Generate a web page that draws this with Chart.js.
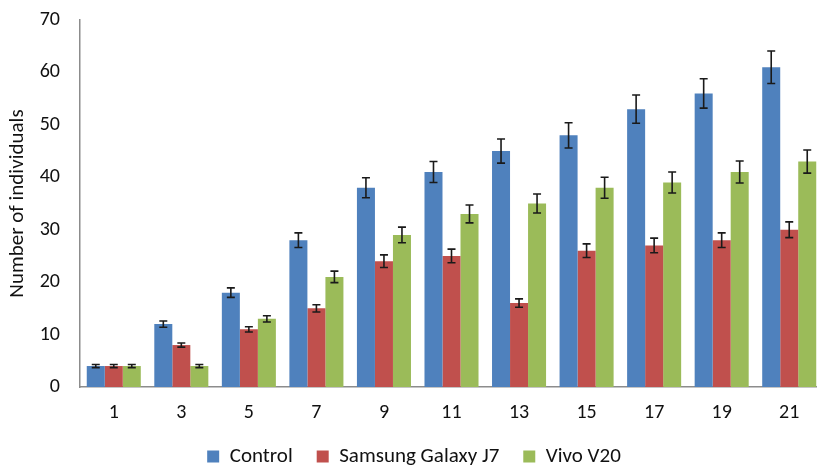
<!DOCTYPE html>
<html>
<head>
<meta charset="utf-8">
<script src="https://cdn.jsdelivr.net/npm/chart.js@4.4.1/dist/chart.umd.min.js"></script>
<style>
  html, body { margin: 0; padding: 0; background: #fff; overflow: hidden; }
  #wrap { width: 823px; height: 465px; }
</style>
</head>
<body>
<div id="wrap"><canvas id="barChart"></canvas></div>
<script>
const days = ["1", "3", "5", "7", "9", "11", "13", "15", "17", "19", "21"];
const controlValues = [4, 12, 18, 28, 38, 41, 45, 48, 53, 56, 61];
const samsungValues = [4, 8, 11, 15, 24, 25, 16, 26, 27, 28, 30];
const vivoValues = [4, 4, 13, 21, 29, 33, 35, 38, 39, 41, 43];
const controlErrors = [0.3, 0.6, 0.9, 1.4, 1.9, 2.0, 2.3, 2.4, 2.7, 2.8, 3.1];
const samsungErrors = [0.3, 0.4, 0.5, 0.7, 1.2, 1.3, 0.8, 1.3, 1.4, 1.4, 1.5];
const vivoErrors = [0.3, 0.3, 0.6, 1.1, 1.5, 1.7, 1.8, 2.0, 2.0, 2.1, 2.2];
const yTicks = [0, 10, 20, 30, 40, 50, 60, 70];

const fontFamily = "Carlito, Lato, 'Open Sans', sans-serif";

const errorBarPlugin = {
  id: "errorBars",
  afterDatasetsDraw(chart) {
    const { ctx, scales } = chart;
    ctx.save();
    ctx.strokeStyle = "#1a1a1a";
    ctx.lineWidth = 1.6;
    chart.data.datasets.forEach((ds, i) => {
      const meta = chart.getDatasetMeta(i);
      meta.data.forEach((bar, j) => {
        const v = ds.data[j];
        const e = ds.errors[j];
        const top = scales.y.getPixelForValue(v + e);
        const bottom = scales.y.getPixelForValue(v - e);
        const cap = 4;
        ctx.beginPath();
        ctx.moveTo(bar.x, top);
        ctx.lineTo(bar.x, bottom);
        ctx.moveTo(bar.x - cap, top);
        ctx.lineTo(bar.x + cap, top);
        ctx.moveTo(bar.x - cap, bottom);
        ctx.lineTo(bar.x + cap, bottom);
        ctx.stroke();
      });
    });
    ctx.restore();
  },
};

const makeDataset = (label, data, errors, color) => ({
  label: label,
  data: data,
  errors: errors,
  backgroundColor: color,
  borderWidth: 0,
  categoryPercentage: 0.8,
  barPercentage: 1.0,
});

new Chart(document.getElementById("barChart"), {
  type: "bar",
  data: {
    labels: days,
    datasets: [
      makeDataset("Control", controlValues, controlErrors, "#4F81BD"),
      makeDataset("Samsung Galaxy J7", samsungValues, samsungErrors, "#C0504D"),
      makeDataset("Vivo V20", vivoValues, vivoErrors, "#9BBB59"),
    ],
  },
  options: {
    responsive: true,
    maintainAspectRatio: false,
    animation: false,
    layout: { padding: { top: 20, right: 0, left: 5, bottom: -12 } },
    plugins: {
      tooltip: { enabled: false },
      legend: {
        position: "bottom",
        labels: {
          boxWidth: 12,
          boxHeight: 12,
          padding: 24,
          color: "#111",
          font: { family: fontFamily, size: 21 },
        },
      },
    },
    scales: {
      x: {
        afterFit: (axis) => {
          axis.height = 35;
          axis.paddingLeft = 0;
          axis.paddingRight = 0;
        },
        grid: { display: false, drawTicks: false },
        border: { color: "#8c8c8c", width: 1.5 },
        ticks: {
          color: "#111",
          padding: 14,
          font: { family: fontFamily, size: 20 },
        },
      },
      y: {
        min: 0,
        max: 70,
        afterBuildTicks: (axis) => {
          axis.ticks = yTicks.map((v) => ({ value: v }));
        },
        afterFit: (axis) => {
          axis.width = 75;
          axis.paddingTop = 0;
          axis.paddingBottom = 0;
        },
        grid: { display: false, drawTicks: false },
        border: { color: "#8c8c8c", width: 1.5 },
        title: {
          display: true,
          text: "Number of individuals",
          color: "#111",
          padding: { top: 0, bottom: 0 },
          font: { family: fontFamily, size: 21 },
        },
        ticks: {
          color: "#111",
          padding: 20,
          font: { family: fontFamily, size: 20 },
        },
      },
    },
  },
  plugins: [errorBarPlugin],
});
</script>
</body>
</html>
